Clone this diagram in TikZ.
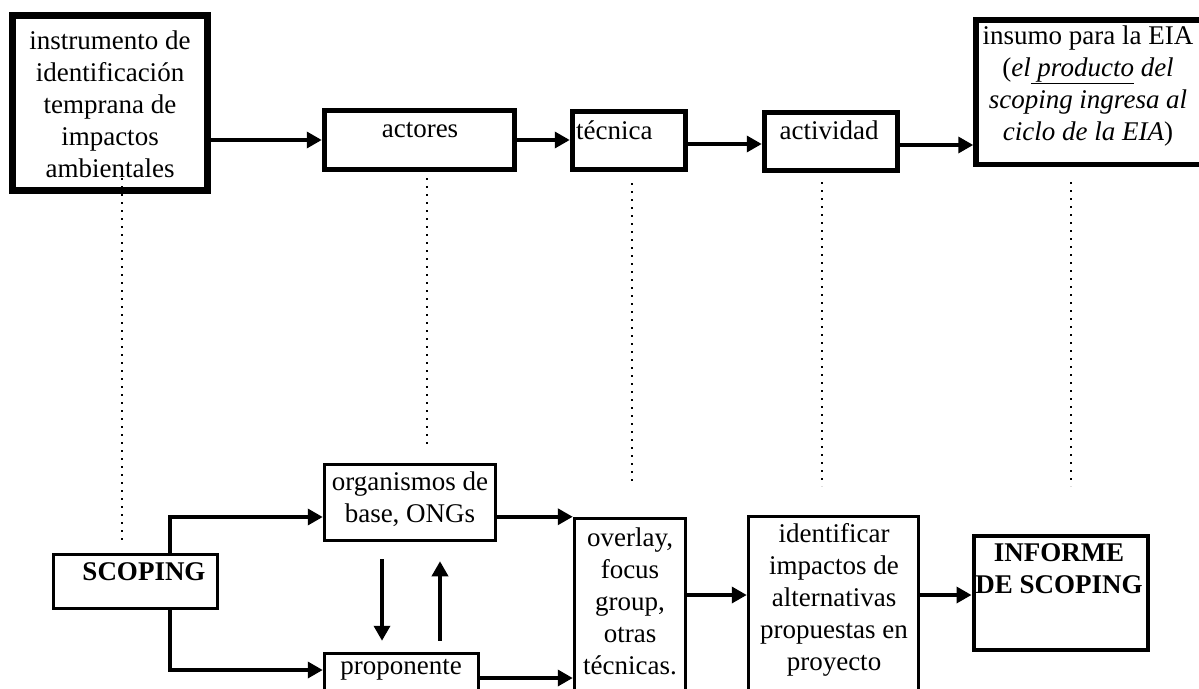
\documentclass[tikz,border=0pt]{standalone}
\usepackage{fontspec}
\setmainfont{Liberation Serif}
\usetikzlibrary{arrows.meta,calc}
\begin{document}
\begin{tikzpicture}[x=1pt,y=-1pt,
  thickbox/.style={draw, rectangle, line width=5.5pt, inner sep=0pt},
  thinbox/.style={draw, rectangle, line width=3.5pt, inner sep=0pt},
  txt/.style={inner sep=0pt, align=center, font=\fontsize{27}{32}\selectfont},
  btxt/.style={txt, font=\fontsize{27}{32}\selectfont\bfseries},
  arr/.style={line width=3.5pt, -{Triangle[length=15pt,width=16pt]}},
  dots/.style={line width=2.6pt, dash pattern=on 2.4pt off 5.6pt}]
\fill[white] (0,0) rectangle (1199,688);
\useasboundingbox (0,0) rectangle (1199,688);
\clip (0,0) rectangle (1199,688);

% top row boxes
\node[thickbox, line width=6.5pt, minimum width=195, minimum height=175] (b1) at (110,103) {};
\node[thickbox, minimum width=190, minimum height=59] (act) at (419.5,140) {};
\node[thickbox, minimum width=113, minimum height=58] (tec) at (629,140.5) {};
\node[thickbox, minimum width=133, minimum height=58] (actv) at (831,141.5) {};
\node[thickbox, minimum width=232, minimum height=144.5] (eia) at (1092,92.25) {};

\node[txt] (b1t) at (110,104) {instrumento de\\identificación\\temprana de\\impactos\\ambientales};
\node[txt] (actt) at (420,130) {actores};
\node[txt, anchor=west] (tect) at (576,130) {técnica};
\node[txt] (actvt) at (829,130) {actividad};
\node[txt] (eiat) at (1088,86) {insumo para la EIA\\(\textit{el\underline{ producto} del}\\\textit{scoping ingresa al}\\\textit{ciclo de la EIA})};

% bottom row boxes
\node[thinbox, minimum width=164, minimum height=54] (scop) at (135.5,581.5) {};
\node[thinbox, minimum width=171, minimum height=76] (org) at (410,502.5) {};
\node[thinbox, minimum width=154, minimum height=66.5] (prop) at (401.5,686.75) {};
\node[thinbox, minimum width=111, minimum height=201.5] (ov) at (630,619.25) {};
\node[thinbox, minimum width=170, minimum height=203.5] (idf) at (833.5,618.25) {};
\node[thinbox, line width=4pt, minimum width=174, minimum height=114] (inf) at (1060.5,592.5) {};

\node[btxt] (scopt) at (144,572) {SCOPING};
\node[txt] (orgt) at (410,499) {organismos de\\base, ONGs};
\node[txt] (propt) at (401,670) {proponente};
\node[txt] (ovt) at (630,601) {overlay,\\focus\\group,\\otras\\técnicas.};
\node[txt] (idft) at (834,600) {identificar\\impactos de\\alternativas\\propuestas en\\proyecto};
\node[btxt] (inft) at (1059,569) {INFORME\\DE SCOPING};

% top arrows
\draw[arr] (b1.east |- act.west) -- (act.west);
\draw[arr] (act.east) -- (tec.west |- act.east);
\draw[arr] (tec.east |- 0,144) -- (actv.west |- 0,144);
\draw[arr] (actv.east |- 0,145) -- (eia.west |- 0,145);

% bottom connectors
\coordinate (s1) at (170,517);
\coordinate (s2) at (170,670);
\coordinate (p2) at (0,678);
\coordinate (m1) at (0,595);
\draw[arr] (scop.north -| s1) |- (org.west |- s1);
\draw[arr] (scop.south -| s2) |- (prop.west |- s2);
\draw[arr, shorten <=17pt, shorten >=11pt] (org.south -| 382,0) -- (prop.north -| 382,0);
\draw[arr, shorten <=11pt, shorten >=19pt] (prop.north -| 440,0) -- (org.south -| 440,0);
\draw[arr] (org.east |- ov.north west) -- (ov.north west);
\draw[arr] (prop.east |- p2) -- (ov.west |- p2);
\draw[arr] (ov.east |- m1) -- (idf.west |- m1);
\draw[arr] (idf.east |- m1) -- (inf.west |- m1);

% dotted guide lines
\coordinate (d1a) at (122,178); \coordinate (d1b) at (122,541);
\coordinate (d2a) at (427,178); \coordinate (d2b) at (427,448);
\coordinate (d3a) at (632,183); \coordinate (d3b) at (632,484);
\coordinate (d4a) at (822,182); \coordinate (d4b) at (822,486);
\coordinate (d5a) at (1071,182); \coordinate (d5b) at (1071,486);
\draw[dots] (d1a) -- (d1b);
\draw[dots] (d2a) -- (d2b);
\draw[dots] (d3a) -- (d3b);
\draw[dots] (d4a) -- (d4b);
\draw[dots] (d5a) -- (d5b);
\end{tikzpicture}
\end{document}
